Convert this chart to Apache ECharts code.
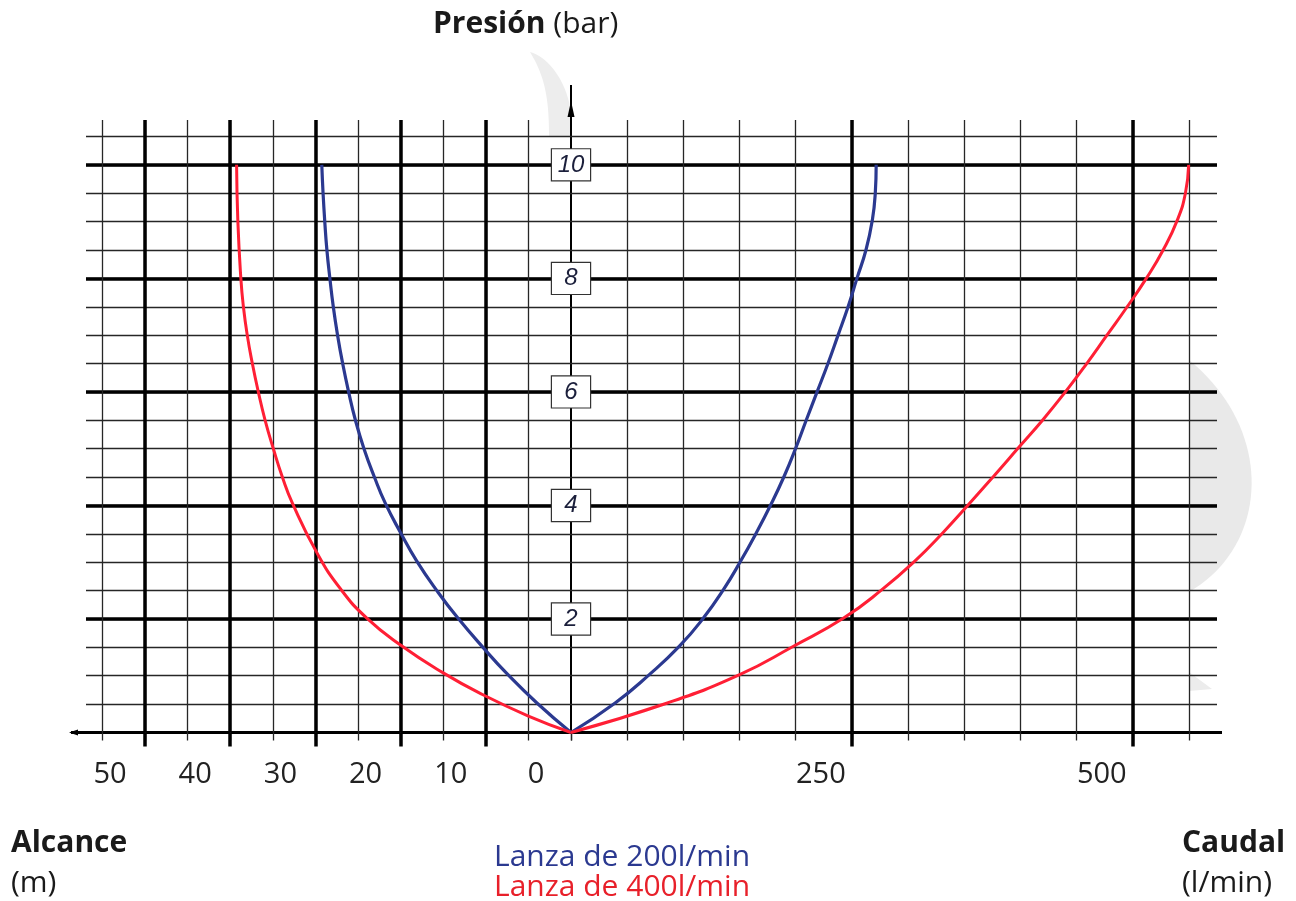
<!DOCTYPE html>
<html>
<head>
<meta charset="utf-8">
<script src="https://cdn.jsdelivr.net/npm/echarts@6/dist/echarts.min.js"></script>
<style>html,body{margin:0;padding:0;background:#fff}#c{width:1296px;height:901px}</style>
</head>
<body>
<div id="c"></div>
<script>
// ---- data (pressure in bar, alcance in m, caudal in l/min) ----
const pressBlueAlc = [0,0.52,1.05,1.46,2.02,2.49,3.02,3.52,4.04,4.51,5.0,5.5,6.0,6.5,7.0,7.5,8.0,8.5,9.0,9.5,10];
const alcBlue      = [0,4.0,7.6,10.1,13.3,15.7,18.1,20.0,21.8,23.1,24.3,25.3,26.1,26.8,27.4,27.9,28.3,28.65,28.9,29.1,29.25];
const pressRedAlc  = [0,0.29,0.67,1.05,1.55,2.02,2.52,3.16,4.04,4.51,4.98,5.5,6.0,6.5,7.0,7.5,8.0,9.0,10];
const alcRed       = [0,5.0,10.4,15.0,20.1,24.0,27.0,29.8,32.7,33.9,34.9,35.9,36.7,37.4,38.0,38.45,38.75,39.1,39.25];
const pressCau     = [0,0.52,1.02,1.52,2.02,2.52,3.02,3.52,4.02,4.51,5.01,5.51,6.0,6.5,7.0,7.5,8.0,8.5,9.03,9.5,10];
const cauBlue      = [0,39.3,69.7,96.5,118,135.8,151,165,178,189.6,200,209.5,219,228.7,237.7,246.6,254.5,262.5,268.2,270.8,271.6];
const cauRed       = [0,85.8,150.1,198,243,277,306,331,354,376,398,420,440,459,477,495,512,527,539.7,546.8,549.7];
const pressureLabels = [2,4,6,8,10];
const alcTicksMajor = [10,20,30,40,50];
const cauTicksMajor = [250,500];

const FONT = "'Open Sans','Noto Sans',sans-serif";
const BLUE = '#2b3990', RED = '#ff1f35';
const THIN = {color:'#262626', width:1.3};
const THICK = {color:'#000', width:3.5};

const zip = (xs, ys) => xs.map((x,i)=>[x, ys[i]]);
const PMAX = 10.79;

const chart = echarts.init(document.getElementById('c'), null, {renderer:'canvas'});
const option = {
  backgroundColor:'#fff',
  animation:false,
  grid:[
    {left:86, right:79, top:120, bottom:168.5},
    {left:102.4, right:725, top:120, bottom:168.5},
    {left:571, right:107, top:120, bottom:168.5}
  ],
  xAxis:[
    {gridIndex:0, type:'value', min:0, max:1, show:false},
    {gridIndex:1, type:'value', inverse:true, min:0, max:55, interval:5, position:'bottom',
      axisLine:{show:false}, axisLabel:{show:false},
      axisTick:{show:true, length:8, lineStyle:THIN},
      splitLine:{show:true, showMinLine:false, lineStyle:THIN}},
    {gridIndex:1, type:'value', inverse:true, min:0, max:55, interval:10, position:'bottom',
      axisLine:{show:false},
      axisTick:{show:true, length:14, lineStyle:THICK, customValues:alcTicksMajor},
      axisLabel:{show:true, showMaxLabel:false, margin:28, fontSize:29, color:'#222', fontFamily:FONT,
        align:'center', padding:[0,70,0,0]},
      splitLine:{show:true, lineStyle:THICK}},
    {gridIndex:2, type:'value', min:0, max:550, interval:50, position:'bottom',
      axisLine:{show:false}, axisLabel:{show:false},
      axisTick:{show:true, length:8, lineStyle:THIN},
      splitLine:{show:true, showMinLine:false, lineStyle:THIN}},
    {gridIndex:2, type:'value', min:0, max:550, interval:250, position:'bottom',
      axisLine:{show:false},
      axisTick:{show:true, length:14, lineStyle:THICK, customValues:cauTicksMajor},
      axisLabel:{show:true, showMinLabel:false, showMaxLabel:false, margin:28, fontSize:29, color:'#222', fontFamily:FONT,
        align:'center', padding:[0,62,0,0]},
      splitLine:{show:true, lineStyle:THICK}}
  ],
  yAxis:[
    {gridIndex:0, type:'value', min:0, max:PMAX, interval:0.5, position:'left',
      axisLine:{show:false}, axisTick:{show:false}, axisLabel:{show:false},
      splitLine:{show:true, showMinLine:false, showMaxLine:false, lineStyle:THIN}},
    {gridIndex:0, type:'value', min:0, max:PMAX, interval:2, position:'left',
      axisLine:{show:false}, axisTick:{show:false}, axisLabel:{show:false},
      splitLine:{show:true, showMinLine:false, showMaxLine:false, lineStyle:THICK}},
    {gridIndex:1, type:'value', min:0, max:PMAX, show:false},
    {gridIndex:2, type:'value', min:0, max:PMAX, interval:2, position:'left',
      axisLine:{show:false}, axisTick:{show:false}, splitLine:{show:false},
      axisLabel:{show:true, showMinLabel:false, showMaxLabel:false, margin:0, align:'center',
        formatter: v => pressureLabels.indexOf(v) >= 0 ? '{a|' + v + '}' : '',
        rich:{a:{fontSize:24, fontStyle:'italic', fontFamily:"'Liberation Sans',Arial,sans-serif", color:'#1b1f3b',
          backgroundColor:'#fff', borderColor:'#333', borderWidth:1.2, width:38, height:31, lineHeight:31, align:'center'}}}}
  ],
  series:[
    {type:'line', name:'Lanza de 200l/min', xAxisIndex:1, yAxisIndex:2, data:zip(alcBlue, pressBlueAlc),
      smooth:0.5, showSymbol:false, lineStyle:{color:BLUE, width:3.2}, z:5},
    {type:'line', name:'Lanza de 400l/min', xAxisIndex:1, yAxisIndex:2, data:zip(alcRed, pressRedAlc),
      smooth:0.5, showSymbol:false, lineStyle:{color:RED, width:3}, z:5},
    {type:'line', name:'Lanza de 200l/min', xAxisIndex:3, yAxisIndex:3, data:zip(cauBlue, pressCau),
      smooth:0.5, showSymbol:false, lineStyle:{color:BLUE, width:3.2}, z:5},
    {type:'line', name:'Lanza de 400l/min', xAxisIndex:3, yAxisIndex:3, data:zip(cauRed, pressCau),
      smooth:0.5, showSymbol:false, lineStyle:{color:RED, width:3}, z:5}
  ]
};
chart.setOption(option);

// decorations positioned from the scales
const c0 = chart.convertToPixel({xAxisIndex:3, yAxisIndex:3}, [0,0]);
const cx = c0[0], cy = c0[1];
const gl = 86, gr = 1296-79;
function bez(p0,p1,p2,p3,n){const out=[];for(let i=0;i<=n;i++){const t=i/n,u=1-t;
  out.push([u*u*u*p0[0]+3*u*u*t*p1[0]+3*u*t*t*p2[0]+t*t*t*p3[0], u*u*u*p0[1]+3*u*u*t*p1[1]+3*u*t*t*p2[1]+t*t*t*p3[1]]);}return out;}
const topShape = bez([530,52],[546,56],[566,78],[571,112],20).concat([[571,137],[549,137]]).concat(bez([549,137],[549,102],[546,78],[530,52],20));
const rightShape = bez([1189,360],[1275,430],[1270,545],[1189,592],40);
const txt = (text, x, y, extra) => ({type:'text', z:10, style:Object.assign({text, x, y, fontFamily:FONT, fontSize:30, fill:'#1a1a1a',
  align:'left', verticalAlign:'middle', textAlign:'left', textVerticalAlign:'middle'}, extra||{})});
chart.setOption({
  graphic:[
    {type:'polygon', z:-20, shape:{points:topShape}, style:{fill:'#ededed'}},
    {type:'polygon', z:-20, shape:{points:rightShape}, style:{fill:'#e9e9e9'}},
    {type:'polygon', z:-20, shape:{points:[[1189,672],[1212,689],[1189,691]]}, style:{fill:'#ececec'}},
    {type:'line', z:-1, shape:{x1:gl-15, y1:cy, x2:gr+5, y2:cy}, style:{stroke:'#000', lineWidth:3}},
    {type:'polygon', z:-1, shape:{points:[[gl-17,cy],[gl-8,cy-3],[gl-8,cy+3]]}, style:{fill:'#000'}},
    {type:'line', z:-1, shape:{x1:cx, y1:cy, x2:cx, y2:85}, style:{stroke:'#000', lineWidth:2}},
    {type:'polygon', z:-1, shape:{points:[[cx,101],[cx-3.5,117],[cx+3.5,117]]}, style:{fill:'#000'}},
    txt('{b|Presión} {r|(bar)}', 433, 24, {rich:{b:{fontWeight:'bold', fontSize:30, fontFamily:FONT, fill:'#1a1a1a'}, r:{fontSize:30, fontFamily:FONT, fill:'#1a1a1a'}}}),
    txt('Alcance', 11, 843, {fontWeight:'bold'}),
    txt('(m)', 11, 883),
    txt('Caudal', 1182, 843, {fontWeight:'bold'}),
    txt('(l/min)', 1182, 883),
    txt('Lanza de 200l/min', 494, 857, {fill:BLUE}),
    txt('Lanza de 400l/min', 494, 887, {fill:'#e8202a'})
  ]
});
</script>
</body>
</html>
